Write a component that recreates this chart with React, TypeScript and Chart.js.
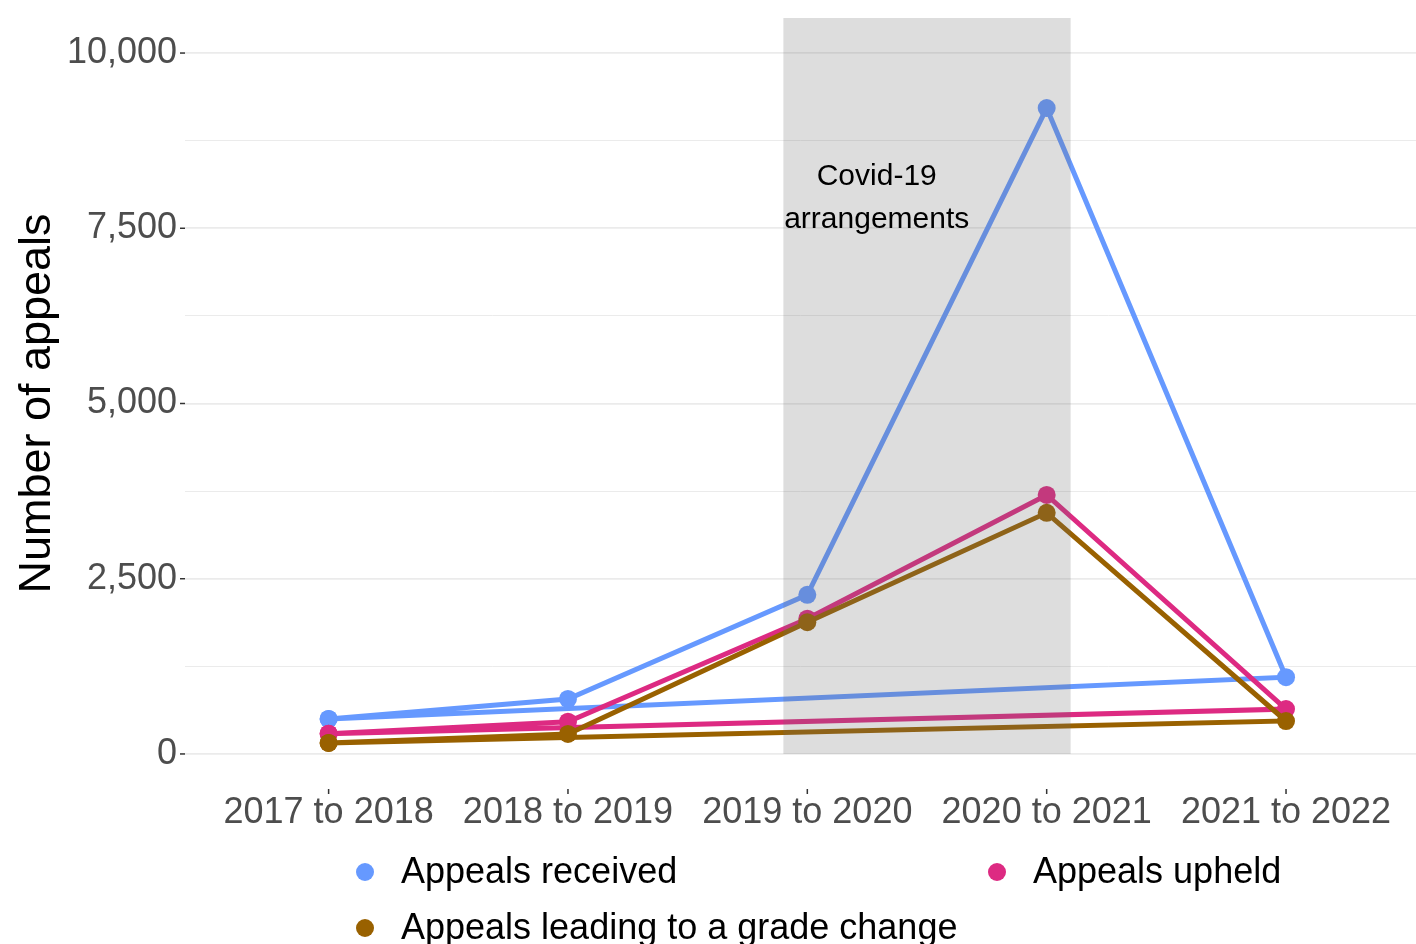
import React, { useEffect, useRef } from "react";
import { Chart, registerables } from "chart.js";

Chart.register(...registerables);

const categories = ["2017 to 2018", "2018 to 2019", "2019 to 2020", "2020 to 2021", "2021 to 2022"];
const appealsReceived = [500, 785, 2270, 9215, 1095];
const appealsUpheld = [290, 460, 1930, 3695, 640];
const gradeChange = [157, 285, 1880, 3440, 470];
// order in which the points are joined (the source path closes back to the first year)
const pathOrder = [0, 1, 2, 3, 4, 0];
const seriesLabels = ["Appeals received", "Appeals upheld", "Appeals leading to a grade change"];
const seriesColors = ["#6699FF", "#DD2A82", "#996100"];
const yTickValues = [0, 1250, 2500, 3750, 5000, 6250, 7500, 8750, 10000];
const yMajorTicks = [0, 2500, 5000, 7500, 10000];
const covidBand = { start: 1.9, end: 3.1, bottom: 0, top: 10500 };
const covidLabel = ["Covid-19", "arrangements"];
const covidLabelPos = { x: 2.29, y: 7930 };

const FONT = "'Liberation Sans', Arial, sans-serif";

const toPoints = (vals: number[]) => pathOrder.map((i) => ({ x: i, y: vals[i] }));

const decorPlugin = {
  id: "decor",
  afterDatasetsDraw(chart: any) {
    const { ctx, scales } = chart;
    const x = scales.x;
    const y = scales.y;
    const l = x.getPixelForValue(covidBand.start);
    const r = x.getPixelForValue(covidBand.end);
    const t = y.getPixelForValue(covidBand.top);
    const b = y.getPixelForValue(covidBand.bottom);
    ctx.save();
    ctx.fillStyle = "rgba(110,110,110,0.23)";
    ctx.fillRect(l, t, r - l, b - t);
    ctx.fillStyle = "#000000";
    ctx.font = `30px ${FONT}`;
    ctx.textAlign = "center";
    ctx.textBaseline = "middle";
    const cx = x.getPixelForValue(covidLabelPos.x);
    const cy = y.getPixelForValue(covidLabelPos.y);
    ctx.fillText(covidLabel[0], cx, cy - 21.5);
    ctx.fillText(covidLabel[1], cx, cy + 21.5);
    ctx.restore();
  },
  afterDraw(chart: any) {
    const { ctx, scales, chartArea } = chart;
    const x = scales.x;
    const y = scales.y;
    ctx.save();
    ctx.strokeStyle = "#333333";
    ctx.lineWidth = 1.5;
    yMajorTicks.forEach((v) => {
      const py = y.getPixelForValue(v);
      ctx.beginPath();
      ctx.moveTo(chartArea.left - 5, py);
      ctx.lineTo(chartArea.left, py);
      ctx.stroke();
    });
    categories.forEach((_, i) => {
      const px = x.getPixelForValue(i);
      ctx.beginPath();
      ctx.moveTo(px, chartArea.bottom);
      ctx.lineTo(px, chartArea.bottom + 5);
      ctx.stroke();
    });
    // legend
    const slots = [
      { x: 365, y: 872 },
      { x: 997, y: 872 },
      { x: 365, y: 928 },
    ];
    ctx.font = `36px ${FONT}`;
    ctx.textAlign = "left";
    ctx.textBaseline = "middle";
    seriesLabels.forEach((label, i) => {
      const s = slots[i];
      ctx.fillStyle = seriesColors[i];
      ctx.beginPath();
      ctx.arc(s.x, s.y, 9, 0, Math.PI * 2);
      ctx.fill();
      ctx.fillStyle = "#000000";
      ctx.fillText(label, s.x + 36, s.y + 1);
    });
    ctx.restore();
  },
};

export default function App() {
  const ref = useRef<HTMLCanvasElement | null>(null);
  useEffect(() => {
    if (!ref.current) return;
    const series = [appealsReceived, appealsUpheld, gradeChange];
    const chart = new Chart(ref.current, {
      type: "line",
      data: {
        datasets: series.map((vals, i) => ({
          label: seriesLabels[i],
          data: toPoints(vals),
          borderColor: seriesColors[i],
          backgroundColor: seriesColors[i],
          pointBackgroundColor: seriesColors[i],
          pointBorderWidth: 0,
          pointRadius: 9,
          borderWidth: 5,
          tension: 0,
          fill: false,
          order: 2 - i,
        })),
      },
      options: {
        responsive: false,
        animation: false,
        devicePixelRatio: 1,
        layout: { padding: { top: 18, left: 0, right: 0, bottom: 0 }, autoPadding: false },
        plugins: {
          legend: { display: false },
          tooltip: { enabled: false },
        },
        scales: {
          x: {
            type: "linear",
            min: -0.6,
            max: 4.543,
            afterBuildTicks: (s: any) => {
              s.ticks = categories.map((_, i) => ({ value: i }));
            },
            afterFit: (s: any) => {
              s.height = 155;
              s.paddingLeft = 0;
              s.paddingRight = 0;
            },
            ticks: {
              autoSkip: false,
              maxRotation: 0,
              padding: 2,
              color: "#4D4D4D",
              font: { family: FONT, size: 36 },
              callback: (v: any) => categories[v] ?? "",
            },
            grid: { display: false, drawTicks: false },
            border: { display: false },
          },
          y: {
            type: "linear",
            min: -500,
            max: 10500,
            afterBuildTicks: (s: any) => {
              s.ticks = yTickValues.map((v) => ({ value: v }));
            },
            afterFit: (s: any) => {
              s.width = 185;
              s.paddingTop = 0;
              s.paddingBottom = 0;
            },
            ticks: {
              padding: 8,
              color: "#4D4D4D",
              font: { family: FONT, size: 36 },
              callback: (v: any) => (yMajorTicks.includes(v) ? Number(v).toLocaleString("en-US") : ""),
            },
            grid: {
              drawTicks: false,
              color: "#EBEBEB",
              lineWidth: (c: any) => (c.tick && yMajorTicks.includes(c.tick.value) ? 1.8 : 1),
            },
            border: { display: false },
            title: {
              display: true,
              text: "Number of appeals",
              color: "#000000",
              font: { family: FONT, size: 45, lineHeight: 1 },
              padding: { top: 15.5, bottom: 0 },
            },
          },
        },
      },
      plugins: [decorPlugin],
    });
    return () => chart.destroy();
  }, []);
  return (
    <div style={{ position: "absolute", left: 0, top: 0, width: 1416, height: 944, background: "#fff" }}>
      <canvas ref={ref} width={1416} height={944} style={{ display: "block" }} />
    </div>
  );
}
